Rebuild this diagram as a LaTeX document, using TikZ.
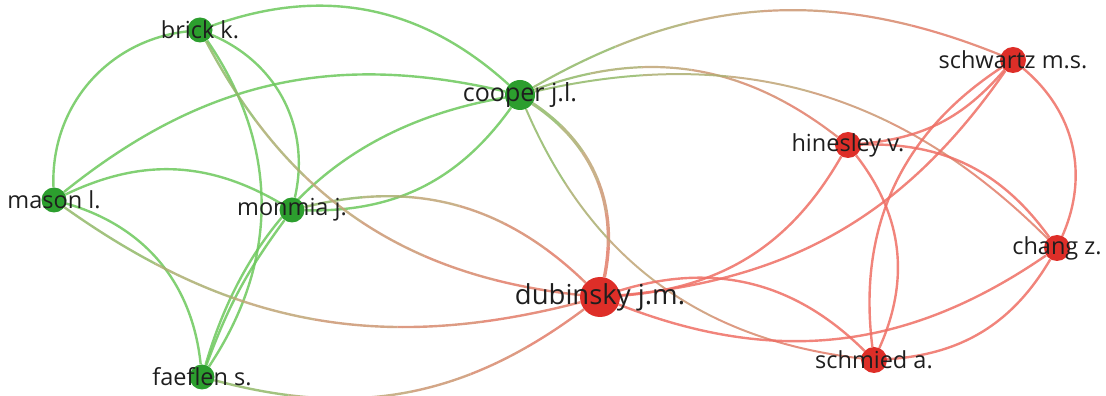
\documentclass[tikz,border=0pt]{standalone}
\usepackage{fontspec}
\setmainfont{Open Sans}
\usetikzlibrary{calc}
\pgfdeclarelayer{bg}
\pgfsetlayers{bg,main}
\definecolor{nodegreen}{RGB}{44,158,46}
\definecolor{nodered}{RGB}{222,46,40}
\definecolor{edgegreen}{RGB}{108,200,92}
\definecolor{edgered}{RGB}{238,110,100}
\definecolor{edgetan}{RGB}{192,165,118}
\definecolor{labelcol}{RGB}{30,30,30}
\tikzset{
  gnode/.style={circle, fill=nodegreen, inner sep=0pt, minimum size=25pt},
  rnode/.style={circle, fill=nodered, inner sep=0pt, minimum size=26pt},
  lab/.style={font=\fontsize{23.5}{23.5}\selectfont, text=labelcol, inner sep=0pt},
  biglab/.style={font=\fontsize{27.5}{27.5}\selectfont, text=labelcol, inner sep=0pt},
  gedge/.style={draw=edgegreen, line width=2.4pt, opacity=0.85},
  redge/.style={draw=edgered, line width=2.4pt, opacity=0.85}
}
% edge between clusters: colour runs from green (first node) through tan to red (second node)
\newcommand{\gradedge}[4]{%
  \coordinate (ga) at (#1.center);
  \coordinate (gb) at (#2.center);
  \coordinate (gfar) at ($(ga)!-5!(gb)$);
  \foreach \ta/\tb/\ecol in {-1/0.2/edgegreen!55!edgetan, 0.2/0.35/edgegreen!25!edgetan, 0.35/0.5/edgetan, 0.5/0.65/edgered!25!edgetan, 0.65/0.8/edgered!50!edgetan, 0.8/2/edgered!75!edgetan} {
    \begin{scope}
      \coordinate (pa) at ($(ga)!\ta!(gb)$);
      \coordinate (pb) at ($(ga)!\tb!(gb)$);
      \clip ($(pa)!900pt!90:(gfar)$) -- ($(pa)!900pt!-90:(gfar)$) -- ($(pb)!900pt!-90:(gfar)$) -- ($(pb)!900pt!90:(gfar)$) -- cycle;
      \draw[line width=#4, draw=\ecol, opacity=0.85] (#1) to[#3] (#2);
    \end{scope}
  }%
}
\begin{document}
\begin{tikzpicture}[x=1pt,y=1pt]
\useasboundingbox (0,0) rectangle (1106,396);
% nodes
\node[gnode] (brick) at (200,366) {};
\node[gnode, minimum size=30pt] (cooper) at (520,301) {};
\node[gnode] (mason) at (54,196) {};
\node[gnode] (monmia) at (292,186) {};
\node[gnode] (faeflen) at (202,19) {};
\node[rnode, minimum size=40pt] (dubinsky) at (600,99) {};
\node[rnode] (schwartz) at (1013,336) {};
\node[rnode] (hinesley) at (848,251) {};
\node[rnode] (chang) at (1057,148) {};
\node[rnode] (schmied) at (874,36) {};
% labels
\node[lab] (brickL) at (brick) {brick k.};
\node[lab, font=\fontsize{25}{25}\selectfont] (cooperL) at (cooper) {cooper j.l.};
\node[lab] (masonL) at (mason) {mason l.};
\node[lab] (monmiaL) at (monmia) {monmia j.};
\node[lab] (faeflenL) at (faeflen) {faeflen s.};
\node[biglab] (dubinskyL) at (dubinsky) {dubinsky j.m.};
\node[lab] (schwartzL) at (schwartz) {schwartz m.s.};
\node[lab] (hinesleyL) at (hinesley) {hinesley v.};
\node[lab] (changL) at (chang) {chang z.};
\node[lab] (schmiedL) at (schmied) {schmied a.};
% edges
\begin{pgfonlayer}{bg}
\draw[gedge] (brick) to[bend left=31] (cooper);
\draw[gedge] (mason) to[bend left=43] (brick);
\draw[gedge] (brick) to[bend left=40] (monmia);
\draw[gedge] (brick) to[bend left=34] (faeflen);
\draw[gedge] (mason) to[bend left=26] (cooper);
\draw[gedge] (mason) to[bend left=28] (monmia);
\draw[gedge] (mason) to[bend left=34] (faeflen);
\draw[gedge] (cooper) to[bend right=32] (faeflen);
\draw[gedge] (monmia) to[bend right=8] (faeflen);
\draw[gedge] (monmia) to[bend right=28] (cooper);
\gradedge{mason}{dubinsky}{bend right=25}{2.4pt}
\gradedge{monmia}{dubinsky}{bend left=29}{2.4pt}
\gradedge{brick}{dubinsky}{bend right=28}{2.4pt}
\gradedge{faeflen}{dubinsky}{bend right=26}{2.4pt}
\gradedge{cooper}{dubinsky}{bend left=34}{3.4pt}
\gradedge{cooper}{schmied}{bend right=30}{2pt}
\gradedge{cooper}{schwartz}{bend left=26}{2.2pt}
\gradedge{cooper}{hinesley}{bend left=29}{2.2pt}
\gradedge{cooper}{chang}{bend left=29}{2pt}
\draw[redge] (dubinsky) to[bend right=28] (hinesley);
\draw[redge] (dubinsky) to[bend right=25] (schwartz);
\draw[redge] (dubinsky) to[bend left=31] (schmied);
\draw[redge] (dubinsky) to[bend right=28] (chang);
\draw[redge] (hinesley) to[bend right=22] (schwartz);
\draw[redge] (hinesley) to[bend left=28] (chang);
\draw[redge] (hinesley) to[bend left=31] (schmied);
\draw[redge] (schwartz) to[bend right=32] (schmied);
\draw[redge] (schwartz) to[bend left=37] (chang);
\draw[redge] (chang) to[bend left=28] (schmied);
\end{pgfonlayer}
\end{tikzpicture}
\end{document}
